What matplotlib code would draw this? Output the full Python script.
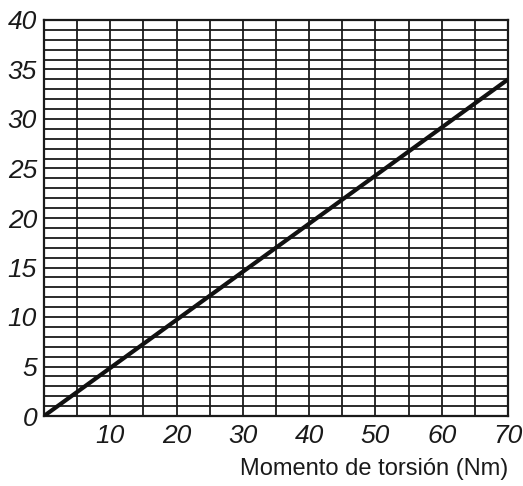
import matplotlib.pyplot as plt
import numpy as np

# data
torque = [0, 70]
value = [0, 34]
x_ticks = [10, 20, 30, 40, 50, 60, 70]
y_ticks = [0, 5, 10, 15, 20, 25, 30, 35, 40]

plt.rcParams['font.family'] = ['Liberation Sans', 'DejaVu Sans']

fig = plt.figure(figsize=(5.23, 4.86), dpi=100)
ax = fig.add_axes([44/523, 70/486, 464/523, 396/486])

# grid: vertical every 5, horizontal every 1
for xv in np.arange(5, 70, 5):
    ax.axvline(xv, color='#1a1a1a', lw=1.3, zorder=1)
for yv in np.arange(1, 40, 1):
    ax.axhline(yv, color='#1a1a1a', lw=1.3, zorder=1)

ax.plot(torque, value, color='#111111', lw=3.0, solid_capstyle='butt', zorder=3)

ax.set_xlim(0, 70)
ax.set_ylim(0, 40)
for s in ax.spines.values():
    s.set_linewidth(1.6)
    s.set_color('#1a1a1a')

ax.set_xticks(x_ticks)
ax.set_yticks(y_ticks)
ax.tick_params(length=0, labelsize=19, pad=6)
ax.tick_params(axis='y', pad=5)
for lab in ax.get_xticklabels() + ax.get_yticklabels():
    lab.set_fontstyle('italic')
    lab.set_color('#1a1a1a')

ax.set_xlabel('Momento de torsión (Nm)', fontsize=17, color='#1a1a1a')
ax.xaxis.set_label_coords(1.0, -0.105)
ax.xaxis.label.set_horizontalalignment('right')
ax.xaxis.label.set_verticalalignment('top')

fig.savefig('out.png', dpi=100)
